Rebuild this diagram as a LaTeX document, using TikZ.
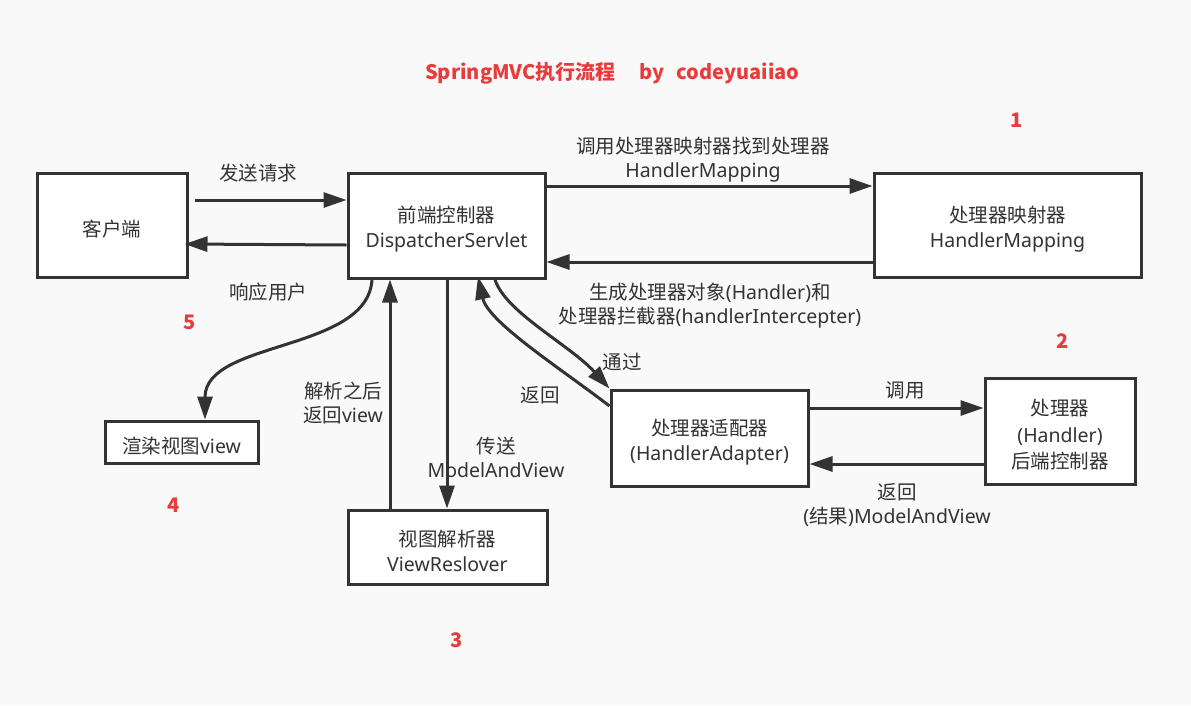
\documentclass[tikz,border=0pt]{standalone}
\usepackage{fontspec}
\setmainfont{Noto Sans}
\newfontfamily\cjk{Noto Sans CJK SC}
\usetikzlibrary{arrows.meta}
\definecolor{ink}{HTML}{333333}
\definecolor{redt}{HTML}{E83C3C}
\definecolor{bg}{HTML}{F9F9F9}
\newcommand{\zh}[1]{{\cjk #1}}
\begin{document}
\begin{tikzpicture}[x=1pt,y=-1pt,
  box/.style={draw=ink, line width=3pt, fill=white, inner sep=0pt},
  boxtxt/.style={align=center, inner sep=0pt, text=ink, yshift=-4pt, font=\fontsize{19.5}{25}\selectfont},
  lbl/.style={align=center, inner sep=0pt, text=ink, font=\fontsize{19.5}{24}\selectfont},
  num/.style={text=redt, inner sep=0pt, font=\fontsize{20}{20}\selectfont\cjk\bfseries},
  conn/.style={draw=ink, line width=3pt, -{Triangle[length=23pt,width=15pt]}},
  ]
\fill[bg] (0,0) rectangle (1191,705);
\useasboundingbox (0,0) rectangle (1191,705);

% title
\node[anchor=west, inner sep=0pt, text=redt, font=\fontsize{20}{20}\selectfont\cjk\bfseries] (title) at (425,73)
  {SpringMVC执行流程\hspace{24pt}by\hspace{12pt}codeyuaiiao};

% boxes
\node[box, minimum width=150pt, minimum height=104pt, label={[boxtxt]center:\zh{客户端}}] (client) at (112,225) {};
\node[box, minimum width=197pt, minimum height=105pt, label={[boxtxt]center:\zh{前端控制器}\\DispatcherServlet}] (ds) at (446.5,225.5) {};
\node[box, minimum width=267pt, minimum height=104pt, label={[boxtxt]center:\zh{处理器映射器}\\HandlerMapping}] (hm) at (1007.5,225) {};
\node[box, minimum width=197pt, minimum height=96pt, label={[boxtxt]center:\zh{处理器适配器}\\(HandlerAdapter)}] (ha) at (709.5,438) {};
\node[box, minimum width=150pt, minimum height=106pt, label={[boxtxt, font=\fontsize{19.5}{26.5}\selectfont]center:\zh{处理器}\\(Handler)\\\zh{后端控制器}}] (h) at (1060,431) {};
\node[box, minimum width=153pt, minimum height=42pt, label={[boxtxt]center:\zh{渲染视图}view}] (render) at (181.5,442) {};
\node[box, minimum width=199pt, minimum height=74pt, label={[boxtxt]center:\zh{视图解析器}\\ViewReslover}] (vr) at (447.5,547) {};

% connectors
\draw[conn] ([xshift=6pt]client.east |- 0,200) -- (ds.west |- 0,200);
\draw[conn] (ds.west |- 0,245) -- ([xshift=-4pt]client.east |- 0,244);
\draw[conn] (ds.east |- 0,186) -- (hm.west |- 0,186);
\draw[conn] (hm.west |- 0,262) -- (ds.east |- 0,262);
\draw[conn] (ds.south -| 372,0) .. controls (368,352) and (205,340) .. (render.north -| 205,0);
\draw[conn] (vr.north -| 390,0) -- (ds.south -| 390,0);
\draw[conn] (ds.south -| 447,0) -- (vr.north -| 447,0);
\draw[conn] (ds.south -| 495,0) .. controls (505,312) and (570,345) .. (ha.north west);
\draw[conn] (ha.west |- 0,406) .. controls (560,368) and (488,322) .. ([yshift=3pt]ds.south -| 478,0);
\draw[conn] (ha.east |- 0,408) -- (h.west |- 0,408);
\draw[conn] (h.west |- 0,464) -- (ha.east |- 0,464);

% labels
\node[lbl] (l1) at (258,173) {\zh{发送请求}};
\node[lbl] (l2) at (268,292) {\zh{响应用户}};
\node[lbl] (l3) at (703,160) {\zh{调用处理器映射器找到处理器}\\HandlerMapping};
\node[lbl] (l4) at (710,306) {\zh{生成处理器对象}(Handler)\zh{和}\\\zh{处理器拦截器}(handlerIntercepter)};
\node[lbl] (l5) at (622,362) {\zh{通过}};
\node[lbl] (l6) at (540,395) {\zh{返回}};
\node[lbl] (l7) at (343,403) {\zh{解析之后}\\\zh{返回}view};
\node[lbl] (l8) at (496,457) {\zh{传送}\\ModelAndView};
\node[lbl] (l9) at (905,390) {\zh{调用}};
\node[lbl] (l10) at (897,505) {\zh{返回}\\(\zh{结果})ModelAndView};

% numbers
\node[num] (n1) at (1017,120) {1};
\node[num] (n2) at (1063,341) {2};
\node[num] (n3) at (457,640) {3};
\node[num] (n4) at (174,505) {4};
\node[num] (n5) at (190,322) {5};
\end{tikzpicture}
\end{document}
